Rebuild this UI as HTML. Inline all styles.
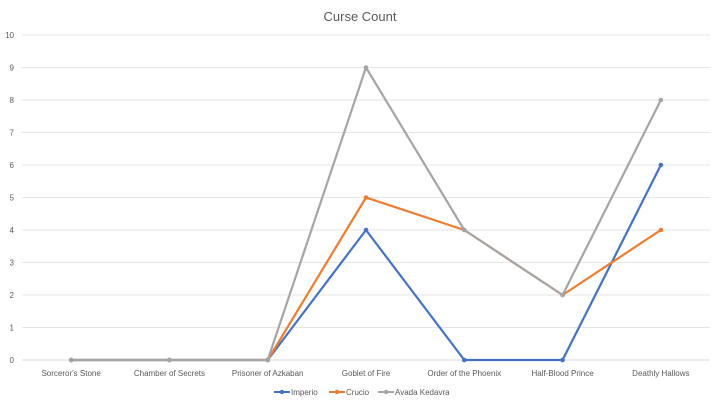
<!DOCTYPE html>
<html><head><meta charset="utf-8"><style>
body{margin:0;background:#fff;}
svg{display:block;font-family:"Liberation Sans",sans-serif;}
</style></head><body>
<svg width="720" height="405">
<g id="grid"></g><g id="series"></g><g id="legend"></g>
<text x="360" y="21" text-anchor="middle" font-size="13" fill="#595959">Curse Count</text>
</svg>
<script>
const categories=["Sorceror's Stone","Chamber of Secrets","Prisoner of Azkaban","Goblet of Fire","Order of the Phoenix","Half-Blood Prince","Deathly Hallows"];
const imperio=[0,0,0,4,0,0,6];
const crucio=[0,0,0,5,4,2,4];
const avada=[0,0,0,9,4,2,8];
const seriesNames=["Imperio","Crucio","Avada Kedavra"];
const yTicks=[0,1,2,3,4,5,6,7,8,9,10];
const colors=["#4472c4","#ed7d31","#a5a5a5"];
const NS="http://www.w3.org/2000/svg";
const L=22,R=710,T=35,B=360,yMax=10;
const band=(R-L)/categories.length;
const xs=i=>L+band*(i+0.5);
const ys=v=>B-(v/yMax)*(B-T);
function mk(tag,attrs,parent){const e=document.createElementNS(NS,tag);for(const k in attrs)e.setAttribute(k,attrs[k]);parent.appendChild(e);return e;}
const grid=document.getElementById('grid');
yTicks.forEach(t=>{
 const l=mk('line',{x1:L,x2:R,y1:ys(t),y2:ys(t),stroke:t===0?'#d9d9d9':'#e6e6e6','stroke-width':1},grid);
 
 
 const tx=mk('text',{x:14,y:ys(t)+3,'text-anchor':'end','font-size':8,fill:'#595959'},grid);
 tx.textContent=t;
 
 
});
categories.forEach((c,i)=>{
 const tx=mk('text',{x:xs(i),y:376,'text-anchor':'middle','font-size':8,fill:'#595959'},grid);
 tx.textContent=c;
 
 
});
const sg=document.getElementById('series');
[imperio,crucio,avada].forEach((d,s)=>{
 const p=mk('polyline',{points:d.map((v,i)=>xs(i)+','+ys(v)).join(' '),fill:'none',stroke:colors[s],'stroke-width':2.2,'stroke-linejoin':'round'},sg);
 
 
 d.forEach((v,i)=>{
  const c=mk('circle',{cx:xs(i),cy:ys(v),r:2.3,fill:colors[s]},sg);
  
  
 });
});
const lg=document.getElementById('legend');
const lx=[274,329,378];
seriesNames.forEach((n,s)=>{
 const g=mk('g',{},lg);
 
 
 mk('line',{x1:lx[s],x2:lx[s]+16,y1:392,y2:392,stroke:colors[s],'stroke-width':2},g);
 mk('circle',{cx:lx[s]+8,cy:392,r:2.2,fill:colors[s]},g);
 const t=mk('text',{x:lx[s]+17,y:395,'font-size':8,fill:'#595959'},g);
 t.textContent=n;
});
</script>
</body></html>
